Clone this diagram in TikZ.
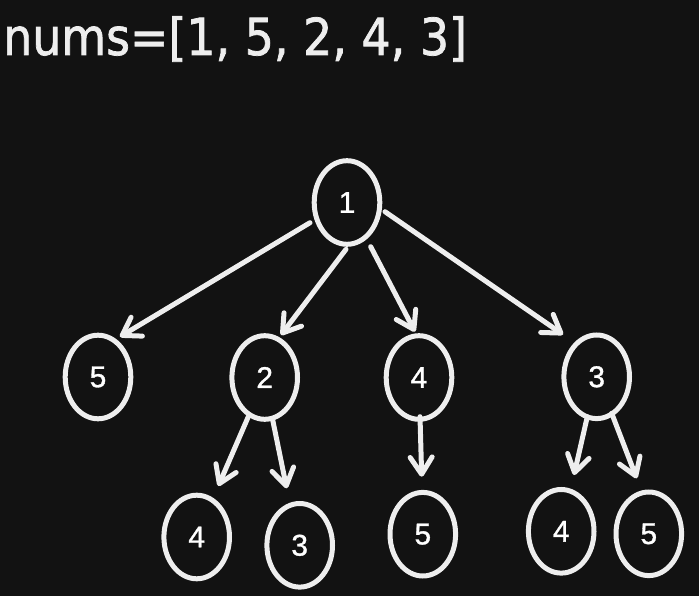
\documentclass[tikz,border=0pt]{standalone}
\usepackage{fontspec}
\setmainfont{Liberation Sans}
\newfontfamily\labelfont[FakeBold=1]{Liberation Sans}
\newfontfamily\titlefont[FakeBold=1.5]{DejaVu Sans}
\usetikzlibrary{shapes.geometric,arrows.meta,calc}
\definecolor{bg}{HTML}{121212}
\definecolor{ink}{HTML}{EEEEEE}
\begin{document}
\begin{tikzpicture}[x=1pt,y=-1pt,
  tnode/.style={ellipse,draw=ink,line width=5pt,minimum width=65.6pt,minimum height=83.6pt,inner sep=0pt,text=white,font=\labelfont\fontsize{30}{30}\selectfont},
  edge/.style={draw=ink,line width=5pt,line cap=round,-{Straight Barb[length=17pt,width=22pt,round]}}]
\fill[bg] (0,0) rectangle (699,596);
\useasboundingbox (0,0) rectangle (699,596);
\node[anchor=base west,inner sep=0pt,text=ink,font=\titlefont\fontsize{51}{51}\selectfont] (title) at (3,55) {\scalebox{0.9}[1]{nums=[1, 5, 2, 4, 3]}};
\node[tnode] (n1) at (347,202.5) {1};
\node[tnode] (a5) at (98,377) {5};
\node[tnode] (a2) at (264.7,377.5) {2};
\node[tnode] (a4) at (419,377.5) {4};
\node[tnode] (a3) at (596.7,376.8) {3};
\node[tnode] (b4) at (196.7,537) {4};
\node[tnode] (b3) at (299.7,545.3) {3};
\node[tnode] (b5) at (422.8,534.2) {5};
\node[tnode] (c4) at (561.2,531.3) {4};
\node[tnode] (c5) at (648.8,533.8) {5};
\draw[edge] ($(n1)+(-37,20.2)$) -- ($(a5)+(22,-40.3)$);
\draw[edge] ($(n1)+(-1,46.8)$) -- ($(a2)+(16.3,-42.5)$);
\draw[edge] ($(n1)+(23.7,44.2)$) -- ($(a4)+(-4,-45.8)$);
\draw[edge] ($(n1)+(38,9.2)$) -- ($(a3)+(-33.7,-42.3)$);
\draw[edge] ($(a2)+(-16.4,39.2)$) -- ($(b4)+(21.6,-51)$);
\draw[edge] ($(a2)+(8,42.5)$) -- ($(b3)+(-13,-57)$);
\draw[edge] ($(a4)+(1,39.2)$) -- ($(b5)+(-1.1,-57.5)$);
\draw[edge] ($(a3)+(-9.4,39.9)$) -- ($(c4)+(12.8,-56.3)$);
\draw[edge] ($(a3)+(15,36.5)$) -- ($(c5)+(-12.1,-55.5)$);
\end{tikzpicture}
\end{document}
